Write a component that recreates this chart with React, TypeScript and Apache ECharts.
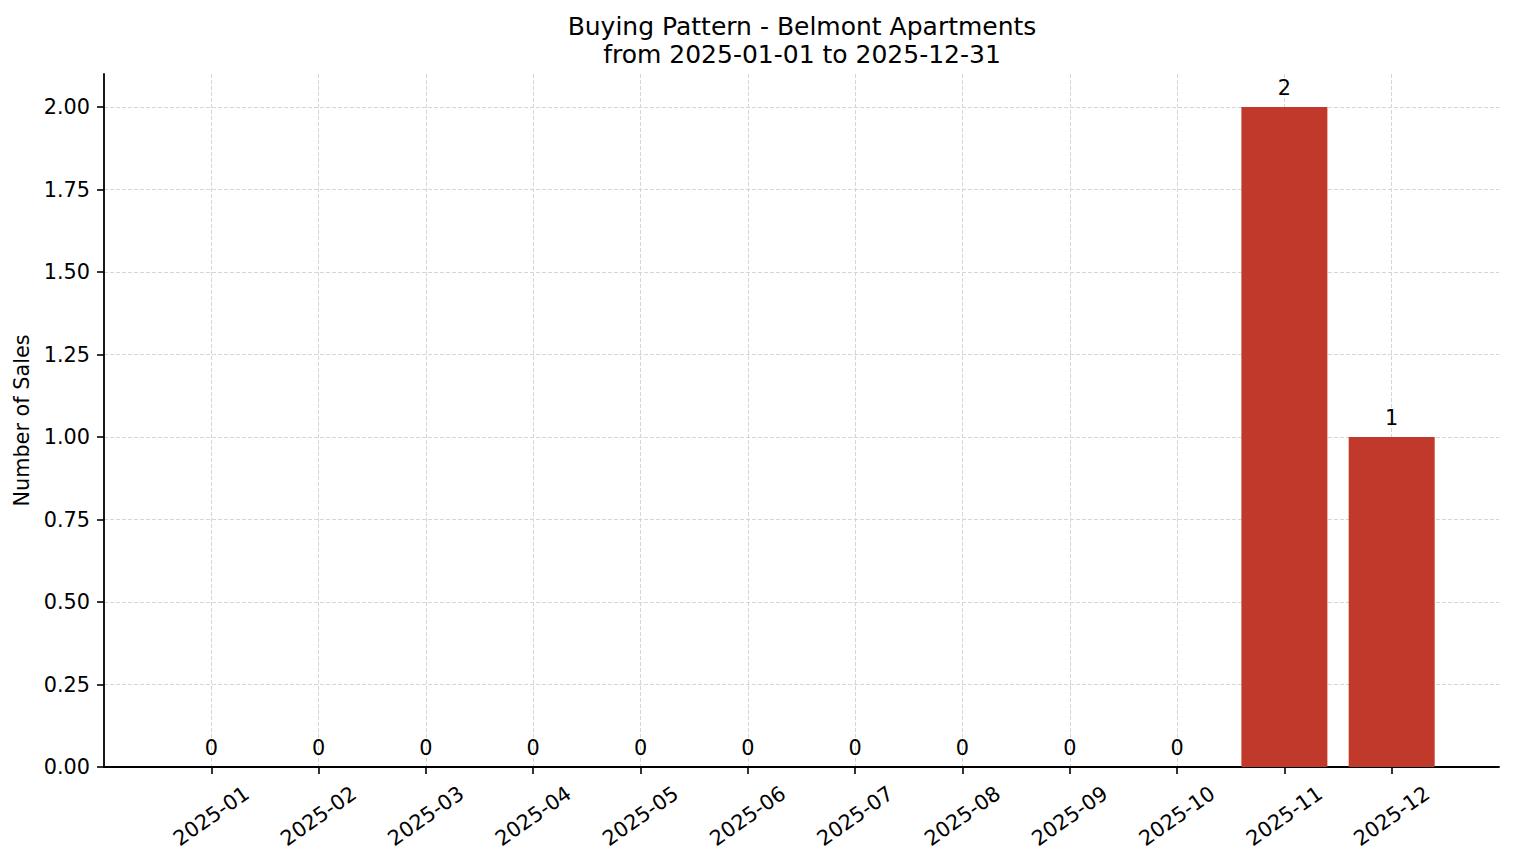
import React, { useEffect, useRef } from "react";
import * as echarts from "echarts";

const categories: string[] = [
  "2025-01", "2025-02", "2025-03", "2025-04", "2025-05", "2025-06",
  "2025-07", "2025-08", "2025-09", "2025-10", "2025-11", "2025-12",
];
const sales: number[] = [0, 0, 0, 0, 0, 0, 0, 0, 0, 0, 2, 1];
const yTicks: number[] = [0, 0.25, 0.5, 0.75, 1.0, 1.25, 1.5, 1.75, 2.0];
const titleLines: string[] = [
  "Buying Pattern - Belmont Apartments",
  "from 2025-01-01 to 2025-12-31",
];
const yAxisName = "Number of Sales";

const FONT = "DejaVu Sans";
const FS = 20.8;

export default function App() {
  const ref = useRef<HTMLDivElement>(null);
  useEffect(() => {
    if (!ref.current) return;
    const chart = echarts.init(ref.current, undefined, { renderer: "svg" });
    const xIdx = categories.map((_, i) => i);
    const gridLine = { show: true, lineStyle: { color: "#d6d6d6", type: [4, 2], width: 1 } };
    chart.setOption({
      animation: false,
      backgroundColor: "#ffffff",
      textStyle: { fontFamily: FONT },
      title: {
        text: titleLines.join("\n"),
        left: 797,
        textAlign: "center",
        top: 7,
        textStyle: {
          fontFamily: FONT,
          fontSize: 25,
          fontWeight: "normal",
          color: "#000",
          lineHeight: 28,
        },
      },
      grid: { left: 104, right: 15, top: 74, bottom: 96, containLabel: false },
      xAxis: {
        type: "value",
        min: -1,
        max: 12,
        interval: 1,
        axisLine: { show: true, onZero: false, lineStyle: { color: "#000", width: 1.8 } },
        axisTick: {
          show: true,
          customValues: xIdx,
          length: 7,
          lineStyle: { color: "#000", width: 1.6 },
        },
        axisLabel: {
          customValues: xIdx,
          formatter: (v: number) => categories[Math.round(v)] ?? "",
          rotate: 35,
          align: "center",
          verticalAlign: "middle",
          margin: 49,
          fontFamily: FONT,
          fontSize: FS,
          color: "#000",
        },
        splitLine: gridLine,
      },
      yAxis: {
        type: "value",
        min: 0,
        max: 2.1,
        name: yAxisName,
        nameLocation: "middle",
        nameGap: 71,
        nameRotate: 90,
        nameTextStyle: { fontFamily: FONT, fontSize: FS, color: "#000" },
        axisLine: { show: true, onZero: false, lineStyle: { color: "#000", width: 1.8 } },
        axisTick: {
          show: true,
          customValues: yTicks,
          length: 7,
          lineStyle: { color: "#000", width: 1.6 },
        },
        axisLabel: {
          customValues: yTicks,
          formatter: (v: number) => v.toFixed(2),
          margin: 14,
          fontFamily: FONT,
          fontSize: FS,
          color: "#000",
        },
        splitLine: gridLine,
      },
      series: [
        {
          type: "bar",
          data: sales.map((v, i) => [i, v]),
          barWidth: 86,
          itemStyle: { color: "#c0392b" },
          z: 1,
          label: {
            show: true,
            position: "top",
            distance: 9,
            formatter: (p: any) => String(p.value[1]),
            fontFamily: FONT,
            fontSize: FS,
            color: "#000",
          },
        },
      ],
    });
    return () => chart.dispose();
  }, []);
  return (
    <div
      ref={ref}
      style={{ position: "fixed", left: 0, top: 0, width: 1514, height: 863, background: "#fff" }}
    />
  );
}
